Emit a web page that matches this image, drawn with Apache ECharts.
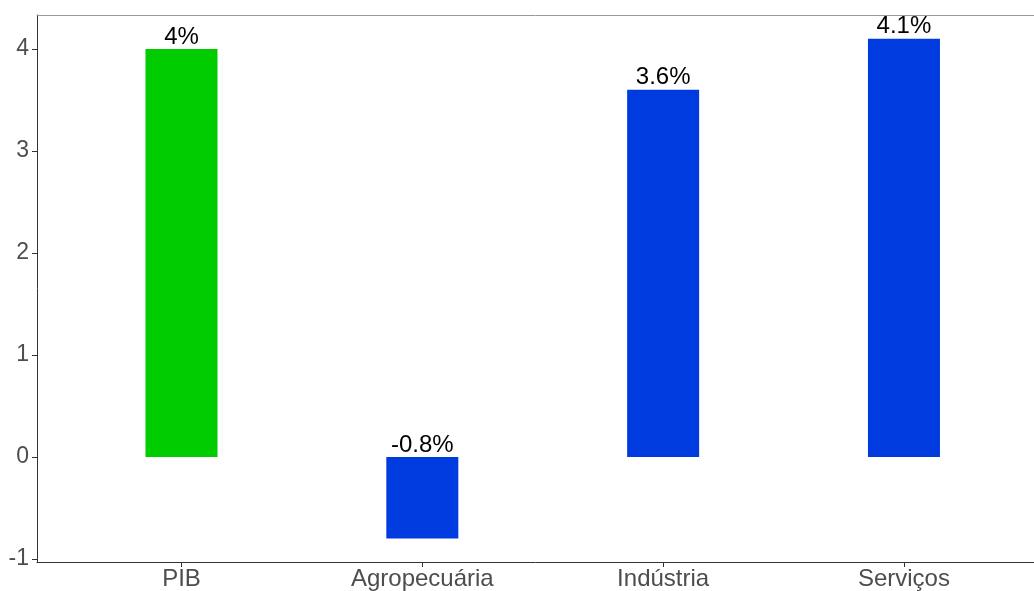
<!DOCTYPE html>
<html>
<head>
<meta charset="utf-8">
<script src="https://cdn.jsdelivr.net/npm/echarts@6/dist/echarts.min.js"></script>
<style>
  html, body { margin: 0; padding: 0; background: #ffffff; }
  #chart { width: 1034px; height: 591px; }
</style>
</head>
<body>
<div id="chart"></div>
<script>
// Crescimento por setor (%)
const categories = ['PIB', 'Agropecuária', 'Indústria', 'Serviços'];
const values = [4, -0.8, 3.6, 4.1];
const yTicks = [-1, 0, 1, 2, 3, 4];
const barColors = ['#00CC00', '#003BE0', '#003BE0', '#003BE0'];

const positions = categories.map((_, i) => i + 1);
const barData = values.map((v, i) => [positions[i], v]);

const chart = echarts.init(document.getElementById('chart'), null, { renderer: 'canvas' });

const fontFamily = 'Liberation Sans, Arial, sans-serif';

chart.setOption({
  animation: false,
  backgroundColor: '#ffffff',
  grid: { left: 37, right: 0, top: 15, bottom: 29 },
  xAxis: [
    {
      type: 'value',
      min: 0.4,
      max: 4.54,
      position: 'bottom',
      axisLine: { show: true, onZero: false, lineStyle: { color: '#333333', width: 1 } },
      axisTick: { show: true, length: 5, customValues: positions, lineStyle: { color: '#333333' } },
      axisLabel: {
        customValues: positions,
        margin: 5,
        formatter: v => categories[Math.round(v) - 1] || '',
        fontFamily, fontSize: 24, color: '#4D4D4D'
      },
      splitLine: { show: false }
    },
    {
      type: 'value',
      min: 0.4,
      max: 4.54,
      position: 'top',
      axisLine: { show: true, onZero: false, lineStyle: { color: '#999999', width: 1 } },
      axisTick: { show: false },
      axisLabel: { show: false },
      splitLine: { show: false }
    }
  ],
  yAxis: {
    type: 'value',
    min: -1.03,
    max: 4.333,
    axisLine: { show: true, onZero: false, lineStyle: { color: '#333333', width: 1 } },
    axisTick: { show: true, length: 5, customValues: yTicks, lineStyle: { color: '#333333' } },
    axisLabel: { customValues: yTicks, margin: 8, fontFamily, fontSize: 23, color: '#4D4D4D' },
    splitLine: { show: false }
  },
  series: [
    {
      type: 'bar',
      xAxisIndex: 0,
      data: barData,
      barWidth: 72,
      itemStyle: { color: p => barColors[p.dataIndex] },
      label: {
        show: true,
        position: 'top',
        distance: 0,
        formatter: p => values[p.dataIndex] + '%',
        fontFamily,
        fontSize: 24,
        color: '#000000'
      }
    }
  ]
});
</script>
</body>
</html>
